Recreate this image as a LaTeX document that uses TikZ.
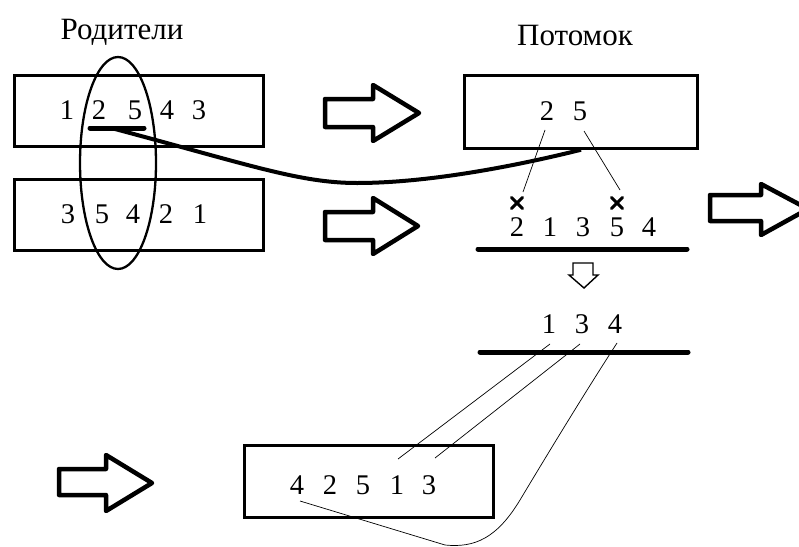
\documentclass[tikz,border=0pt]{standalone}
\usepackage{fontspec}
\setmainfont{Liberation Serif}
\usetikzlibrary{shapes.misc}
\begin{document}
\begin{tikzpicture}[x=1pt,y=-1pt,
 box/.style={draw, line width=2.5pt, minimum width=249pt, minimum height=71pt, inner sep=0pt},
 dig/.style={inner sep=0pt, font=\fontsize{28.5}{32}\selectfont},
 ttl/.style={inner sep=0pt, anchor=base, font=\fontsize{31}{34}\selectfont},
 blockarrow/.style={draw, line width=4.5pt, line join=round},
 smallarrow/.style={draw, line width=1.4pt},
 thickline/.style={line width=5pt, line cap=round},
 thinline/.style={line width=0.7pt},
 xmark/.style={draw, cross out, line width=3pt, line cap=round, minimum size=8pt, inner sep=0pt}]
\path[use as bounding box] (0,0) rectangle (799,546);
\clip (0,0) rectangle (799,546);

% titles
\node[ttl] (tpar) at (122,39) {Родители};
\node[ttl] (toff) at (575,45) {Потомок};

% boxes
\node[box] (boxA) at (139,111) {};
\node[box] (boxB) at (139,215) {};
\node[box, minimum width=233pt, minimum height=73pt] (boxO) at (581,112) {};
\node[box, minimum height=72pt] (boxR) at (369,481.5) {};

% parent 1 digits
\node[dig] (a1) at (67,110) {1};
\node[dig] (a2) at (99,110) {2};
\node[dig] (a3) at (135,110) {5};
\node[dig] (a4) at (167,110) {4};
\node[dig] (a5) at (199,110) {3};
% parent 2 digits
\node[dig] (b1) at (68,214) {3};
\node[dig] (b2) at (102,214) {5};
\node[dig] (b3) at (133,214) {4};
\node[dig] (b4) at (166,214) {2};
\node[dig] (b5) at (200,214) {1};
% offspring digits
\node[dig] (o1) at (547,111) {2};
\node[dig] (o2) at (580,111) {5};
% row 2 1 3 5 4
\node[dig] (c1) at (517,227) {2};
\node[dig] (c2) at (550,227) {1};
\node[dig] (c3) at (583,227) {3};
\node[dig] (c4) at (617,227) {5};
\node[dig] (c5) at (649,227) {4};
% row 1 3 4
\node[dig] (d1) at (549,324) {1};
\node[dig] (d2) at (582,324) {3};
\node[dig] (d3) at (615,324) {4};
% result digits
\node[dig] (r1) at (297,485) {4};
\node[dig] (r2) at (330,485) {2};
\node[dig] (r3) at (363,485) {5};
\node[dig] (r4) at (397,485) {1};
\node[dig] (r5) at (429,485) {3};

% ellipse around columns 2-3
\draw[line width=2.3pt] (118,163) ellipse [x radius=38pt, y radius=106pt];

% underline and transfer curve
\coordinate (u1) at (90,128);
\coordinate (u2) at (144,128);
\coordinate (cs) at (115,129);
\draw[thickline] (u1) -- (u2);
\draw[line width=4pt] (cs) .. controls (250,165) and (300,183) .. (357,183)
  .. controls (430,183) and (520,165) .. (boxO.south);

% x marks and thin lines
\node[xmark] (x1) at (517,203) {};
\node[xmark] (x2) at (617,203) {};
\coordinate (l1s) at (545,130);
\coordinate (l1e) at (523,192);
\coordinate (l2s) at (584,131);
\coordinate (l2e) at (620,190);
\draw[thinline] (l1s) -- (l1e);
\draw[thinline] (l2s) -- (l2e);

% thick rule lines
\coordinate (h1a) at (478,249);
\coordinate (h1b) at (687,249);
\coordinate (h2a) at (480,352);
\coordinate (h2b) at (688,352);
\draw[thickline] (h1a) -- (h1b);
\draw[thickline] (h2a) -- (h2b);

% lines from 1 3 4 to result
\coordinate (m1s) at (550,344);
\coordinate (m1e) at (398,459);
\coordinate (m2s) at (580,344);
\coordinate (m2e) at (435,458);
\coordinate (m3s) at (617,343);
\coordinate (m3e) at (300,501);
\draw[thinline] (m1s) -- (m1e);
\draw[thinline] (m2s) -- (m2e);
\draw[thinline] (m3s) .. controls (580,400) and (535,475) .. (520,500)
  .. controls (497,538) and (475,548) .. (445,545) -- (m3e);

% block arrows
\draw[blockarrow] (325,99) -- (373,99) -- (373,85) -- (419,113) -- (373,141) -- (373,127) -- (325,127) -- cycle;
\draw[blockarrow] (325,212) -- (373,212) -- (373,198) -- (418,226) -- (373,254) -- (373,240) -- (325,240) -- cycle;
\draw[blockarrow] (710,195) -- (761,195) -- (761,184) -- (808,209) -- (761,235) -- (761,221) -- (710,221) -- cycle;
\draw[blockarrow] (59,469) -- (106,469) -- (106,455) -- (152,483) -- (106,511) -- (106,495) -- (59,495) -- cycle;
% small down arrow
\draw[smallarrow] (573,263) -- (593,263) -- (593,275) -- (598,275) -- (584,288) -- (569,275) -- (573,275) -- cycle;
\end{tikzpicture}
\end{document}
